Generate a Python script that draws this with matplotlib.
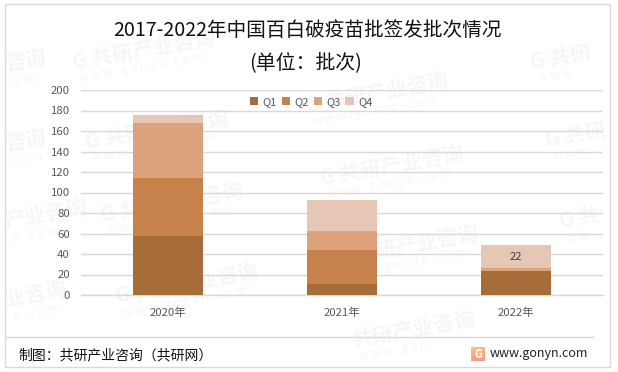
import matplotlib
matplotlib.use("Agg")
import matplotlib.pyplot as plt
import numpy as np
from matplotlib.patches import Rectangle
from matplotlib.lines import Line2D
from matplotlib.colors import LinearSegmentedColormap

plt.rcParams['font.family'] = ['Noto Sans CJK SC', 'DejaVu Sans']

categories = ['2020年', '2021年', '2022年']
series_names = ['Q1', 'Q2', 'Q3', 'Q4']
q1 = [58, 11, 23.5]
q2 = [56.5, 33, 0]
q3 = [53, 18.5, 3]
q4 = [8, 30, 22]
series = [q1, q2, q3, q4]
colors = ['#A66C3A', '#C6824A', '#DBA27C', '#E6C6B4']
yticks = [0, 20, 40, 60, 80, 100, 120, 140, 160, 180, 200]
title1 = '2017-2022年中国百白破疫苗批签发批次情况'
title2 = '(单位：批次)'
footer = '制图：共研产业咨询（共研网）'
site = 'www.gonyn.com'

W, H = 618, 372
fig = plt.figure(figsize=(W / 100, H / 100), dpi=100, facecolor='white')

def fx(p): return p / W
def fy(p): return 1 - p / H

# watermarks: start position, visible mark text, visible url text
full = 'G 共研产业咨询'
url = 'w w w . g o n y n . c o m'
wm = [(72, 62, full, url), (305, 105, full, url), (530, 62, 'G 共研', 'w w w'),
      (85, 142, full, url), (320, 178, full, url), (545, 140, 'G 共研', 'w w w'),
      (100, 215, full, url), (335, 258, full, url), (560, 222, 'G 共', 'w w'),
      (115, 296, full, url), (352, 340, '共研产业咨询', 'w w w . g o n'),
      (5, 65, '咨询', 'o m'), (5, 145, '咨询', 'c o m'), (5, 222, '产业咨询', 'n . c o m'),
      (5, 300, '业咨询', 'n . c o m')]
for x, y, a, b in wm:
    fig.text(fx(x), fy(y), a, fontsize=15, fontweight='bold', color='#F6F6F6',
             rotation=10, rotation_mode='anchor', ha='left', va='center', zorder=-1)
    fig.text(fx(x + 8), fy(y + 17), b, fontsize=8.5, color='#F6F6F6',
             rotation=10, rotation_mode='anchor', ha='left', va='center', zorder=-1)

ax = fig.add_axes([fx(81), fy(295), (603 - 81) / W, (295 - 90) / H])
ax.patch.set_alpha(0)
bottom = [0, 0, 0]
xs = list(range(len(categories)))
for name, vals, c in zip(series_names, series, colors):
    ax.bar(xs, vals, width=0.4, bottom=bottom, color=c, label=name, zorder=3, linewidth=0)
    bottom = [b + v for b, v in zip(bottom, vals)]
ax.text(2, q1[2] + q2[2] + q3[2] + q4[2] / 2, str(q4[2]), ha='center', va='center',
        fontsize=8, color='#404040', zorder=4)

ax.set_xlim(-0.5, 2.5)
ax.set_ylim(0, 200)
ax.set_yticks(yticks)
ax.set_xticks(xs, categories)
ax.grid(axis='y', color='#D9D9D9', linewidth=1, zorder=1)
ax.set_axisbelow(True)
for s in ['top', 'right', 'left']:
    ax.spines[s].set_visible(False)
ax.spines['bottom'].set_color('#D9D9D9')
ax.spines['bottom'].set_linewidth(1)
ax.tick_params(axis='both', length=0, labelsize=8.2, labelcolor='#595959')
ax.tick_params(axis='x', pad=9)
ax.tick_params(axis='y', pad=8)

ax.legend(loc='upper left', bbox_to_anchor=((250 - 81) / 522, (295 - 97) / 205), ncol=4, frameon=False,
          fontsize=8, labelcolor='#595959', handlelength=0.75, handleheight=0.75,
          handletextpad=0.4, columnspacing=0.42, borderpad=0, borderaxespad=0)

fig.text(fx(307), fy(31), title1, fontsize=14.1, color='#111111', ha='center', va='center')
fig.text(fx(306), fy(64), title2, fontsize=14.3, color='#111111', ha='center', va='center')

# outer frame and footer rule
fig.add_artist(Rectangle((fx(5), fy(367)), 605 / W, 363 / H, transform=fig.transFigure,
                         fill=False, edgecolor='#D9D9D9', linewidth=1))
fig.add_artist(Line2D([fx(5), fx(593)], [fy(337), fy(337)], color='#D9D9D9', linewidth=1))

fig.text(fx(18), fy(355), footer, fontsize=10, color='#111111', ha='left', va='center')

logo_ax = fig.add_axes([fx(471), fy(361), 14 / W, 14 / H])
logo_cmap = LinearSegmentedColormap.from_list('logo', ['#F9C27A', '#F49A86'])
logo_ax.imshow(np.linspace(0, 1, 16).reshape(4, 4), cmap=logo_cmap, aspect='auto')
logo_ax.axis('off')
logo_ax.text(0.5, 0.48, 'G', transform=logo_ax.transAxes, fontsize=8, fontweight='bold',
             color='white', ha='center', va='center')
fig.text(fx(490), fy(354), site, fontsize=9, color='#222222', ha='left', va='center')

fig.savefig('out.png', dpi=100)
